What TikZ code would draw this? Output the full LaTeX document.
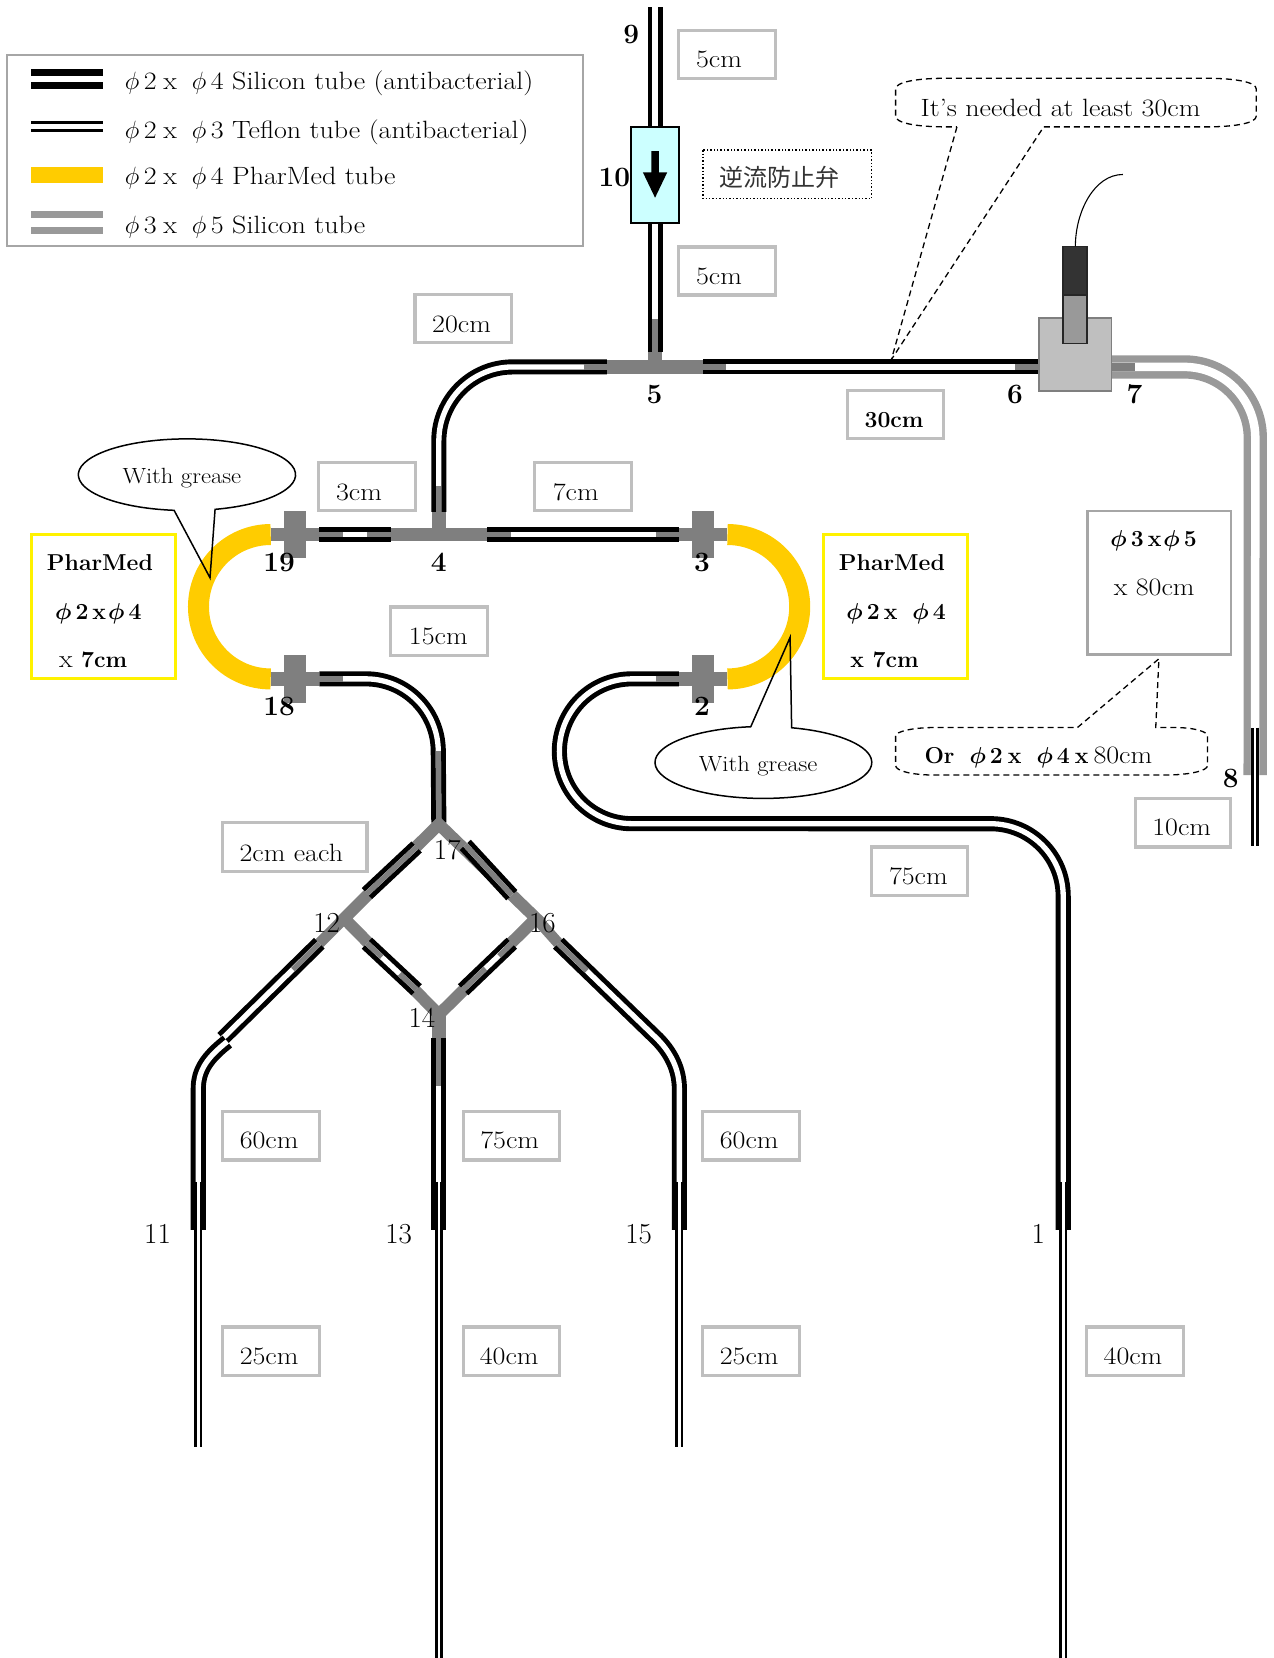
\documentclass[tikz,border=0pt]{standalone}
\usepackage{fix-cm}
\usepackage{fontspec}
\setmainfont{Latin Modern Roman}[FakeStretch=1.12,BoldFeatures={FakeStretch=1.0}]
\newfontfamily\cjk{Noto Sans CJK JP}
\newfontfamily\numf{Latin Modern Roman}
\definecolor{fitgray}{HTML}{7F7F7F}
\definecolor{lblgray}{HTML}{BFBFBF}
\definecolor{boxgray}{HTML}{A6A6A6}
\definecolor{tubegray}{HTML}{999999}
\definecolor{pharmed}{HTML}{FFCC00}
\definecolor{valve}{HTML}{CCFFFF}
\newcommand{\fs}{\fontsize{25}{28}\selectfont}
\newcommand{\fb}{\fontsize{23}{28}\selectfont\bfseries\boldmath}
\newcommand{\ph}{$\phi$}
\tikzset{
 x=1.0573pt,y=-1.0573pt,
 tube/.style={line width=4.9pt,double=white,double distance=5.3pt,color=black},
 thintube/.style={line width=2.6pt,double=white,double distance=2.6pt,color=black},
 graytube/.style={line width=7.4pt,double=white,double distance=8.5pt,color=tubegray},
 ins/.style={line width=5.3pt,color=fitgray},
 barfit/.style={line width=13.5pt,color=fitgray},
 pharmedtube/.style={line width=21pt,color=pharmed},
 lenbox/.style={draw=lblgray,line width=3.2pt,fill=white},
 txt/.style={inner sep=0pt,text depth=0pt,yshift=0.8pt,font=\fs,text=black},
 btxt/.style={inner sep=0pt,text depth=0pt,yshift=0.8pt,font=\fb,text=black},
 num/.style={inner sep=0pt,text depth=0pt,font=\numf\fontsize{29}{30}\selectfont,text=black},
 bnum/.style={inner sep=0pt,text depth=0pt,font=\fontsize{28}{30}\selectfont\bfseries,text=black},
 callout/.style={draw=black,line width=1.5pt},
 dashcall/.style={draw=black,line width=1.3pt,dash pattern=on 6pt off 4pt},
}
\begin{document}
\begin{tikzpicture}
\useasboundingbox (0,0) rectangle (1204,1568);
% legend
\draw[boxgray,line width=2.2pt,fill=white] (6.5,52) rectangle (551,233);
\draw[tube,line width=6.9pt,double distance=6pt] (29.5,74.5) -- (97.5,74.5);
\draw[tube,line width=3.5pt,double distance=4.3pt] (29.5,119.5) -- (97.5,119.5);
\fill[pharmed] (29.5,157.7) rectangle (97.5,173);
\draw[graytube] (29.5,210.5) -- (97.5,210.5);
\foreach \n/\y/\t in {a/77.5/4 Silicon tube (antibacterial),b/123/3 Teflon tube (antibacterial),c/168/4 PharMed tube}
 \node[txt,anchor=west,yshift=0.6pt] (leg\n) at (118,\y) {\ph\hspace{4.5pt}2\hspace{6.5pt}x\hspace{15pt}\ph\hspace{4.5pt}\t};
\node[txt,anchor=west,yshift=0.6pt] (legd) at (118,214) {\ph\hspace{4.5pt}3\hspace{6.5pt}x\hspace{15pt}\ph\hspace{4.5pt}5 Silicon tube};

% valve branch
\draw[tube] (619.5,7) -- (619.5,120);
\draw[tube] (619.5,211) -- (619.5,333);
\draw[ins] (619.5,302) -- (619.5,333);
\draw[barfit] (619.5,333) -- (619.5,347);
\node[draw=black,line width=1.6pt,fill=valve,minimum width=47.6pt,minimum height=96.2pt,inner sep=0pt] (valvebody) at (619.5,165.5) {};
\fill[black] (616,143) -- (623,143) -- (623,163) -- (631,163) -- (619.5,187) -- (608,163) -- (616,163) -- cycle;

% fitting 5 and neighbours
\draw[barfit] (574,347) -- (665,347);
\draw[tube] (574,347) -- (485,347) arc[start angle=90,end angle=180,radius=74pt] -- (415,484);
\draw[ins] (552,347) -- (574,347);
\draw[ins] (415,460) -- (415,484);
\draw[tube] (665,347) -- (985,347);
\draw[ins] (665,347) -- (687,347);
\draw[ins] (960,347) -- (985,347);

% gray tube to 8
\draw[graytube] (1051,347) -- (1120,347) arc[start angle=90,end angle=0,radius=71pt] -- (1187,733);
\draw[ins,line width=8.5pt] (1051,347) -- (1073,347);
\draw[thintube] (1187,688) -- (1187,800);

% flow cell and sensor
\draw[fitgray,line width=1.6pt,fill=lblgray] (982.5,301) rectangle (1051,370);
\draw[black!85,line width=1.6pt,fill=tubegray] (1005.5,279) rectangle (1028,325);
\draw[black!85,line width=1.6pt,fill=black!80] (1005.5,233) rectangle (1028,279);
\draw[black,line width=1.1pt] (1017,233) .. controls (1017,200) and (1035,165) .. (1062,165);

% fitting 4
\draw[barfit] (370,505.5) -- (461,505.5);
\draw[barfit] (415,484) -- (415,505.5);
\draw[tube] (302,505.5) -- (370,505.5);
\draw[ins] (302,505.5) -- (324,505.5);
\draw[ins] (347,505.5) -- (370,505.5);
\draw[tube] (461,505.5) -- (642,505.5);
\draw[ins] (461,505.5) -- (483,505.5);
\draw[ins] (620,505.5) -- (642,505.5);

% PharMed loops
\draw[pharmedtube] (256,505.5) arc[start angle=90,end angle=270,radius=72.2pt];
\draw[pharmedtube] (688,505.5) arc[start angle=90,end angle=-90,radius=72.2pt];
% crosses
\foreach \cx/\cy/\a/\b in {279/505.5/256/302, 279/642/256/302, 665/505.5/642/688, 665/642/642/688}{
 \draw[barfit] (\a,\cy) -- (\b,\cy);
 \fill[fitgray] (\cx-10.2,\cy-22.5) rectangle (\cx+10.2,\cy+22.5);
}

% 18 to diamond
\draw[tube] (302,642) -- (346,642) arc[start angle=90,end angle=0,radius=72.4pt] -- (415,778);
\draw[ins] (302,642) -- (324,642);
\draw[ins] (415,710) -- (415,778);

% 2 to 1
\draw[tube] (642,642) -- (597.5,642) arc[start angle=90,end angle=270,radius=72.4pt] -- (937,779) arc[start angle=90,end angle=0,radius=72.4pt] -- (1005.5,1163);
\draw[ins] (620,642) -- (642,642);
\draw[thintube] (1005.5,1118) -- (1005.5,1568);

% diamond
\draw[fitgray,line width=12pt,line join=miter] (415,779.5) -- (325.5,868.5) -- (415,959.5) -- (507,868.5) -- cycle;
\draw[barfit] (415,959) -- (415,982);
\draw[barfit,line width=11pt] (325.5,868.5) -- (302,892);
\draw[barfit,line width=11pt] (507,868.5) -- (528,892);
\foreach \xa/\ya/\xb/\yb in {394/801/347/845, 440/799/484/846.6}{
 \draw[tube] (\xa,\ya) -- (\xb,\yb);
 \draw[ins] (\xa,\ya) -- (\xb,\yb);
}
\draw[tube] (347,892) -- (394,936);
\draw[ins] (347,892) -- (361,905);
\draw[ins] (378,921) -- (394,936);
\draw[tube] (438,936) -- (484,892);
\draw[ins] (438,936) -- (459,916);
\draw[ins] (472,904) -- (484,892);

% lower tubes
\draw[tube] (302,892) -- (210.5,982);
\draw[tube] (215,985) .. controls (196,1000) and (187.5,1012) .. (187.5,1030) -- (187.5,1163);
\draw[ins] (302,892) -- (277,917);
\draw[thintube] (187.5,1118) -- (187.5,1368);

\draw[tube] (415,982) -- (415,1163);
\draw[ins] (415,982) -- (415,1027);
\draw[thintube] (415,1118) -- (415,1568);

\draw[tube] (528,892) -- (619,980) .. controls (635,995) and (642.5,1012) .. (642.5,1030) -- (642.5,1163);
\draw[ins] (528,892) -- (555,918);
\draw[thintube] (642.5,1118) -- (642.5,1368);

% length boxes
\foreach \n/\xa/\ya/\xb/\yb/\tx/\ty/\t in {
 a/641.5/28.5/733.5/74.5/680/57/5cm,
 b/641.5/233.5/733.5/279/680/262/5cm,
 c/392.5/278.5/484/324/436.5/307/20cm,
 e/301.5/437.5/393/483/339.5/466/3cm,
 f/505.5/437.5/597/483/544.5/466/7cm,
 g/369.5/574/461/620/414.5/602/15cm,
 h/210.5/778/347/824/275.5/807/2cm each,
 i/824.5/801/915/847/868.5/829/75cm,
 j/1073.5/755/1164/801/1117.5/783/10cm,
 k/210.5/1051/302/1097/254.5/1079/60cm,
 l/438/1051/529/1097/482/1079/75cm,
 m/664.5/1051/756/1097/708.5/1079/60cm,
 n/210.5/1255/302/1301/254.5/1283/25cm,
 o/438/1255/529/1301/481.5/1283/40cm,
 p/664.5/1255/756/1301/708.5/1283/25cm,
 q/1027.5/1255/1119/1301/1071.5/1283/40cm}{
 \draw[lenbox] (\xa,\ya) rectangle (\xb,\yb);
 \node[txt] (len\n) at (\tx,\ty) {\t};
}
\draw[lenbox] (801.5,369) rectangle (892,415);
\node[btxt] (lend) at (845.5,398) {30cm};

% PharMed boxes
\draw[yellow,line width=3.2pt,fill=white] (29.5,505.5) rectangle (166,642);
\node[btxt] (ph1a) at (94.5,533) {PharMed};
\node[btxt] (ph1b) at (93,579) {\ph\hspace{4pt}2\hspace{4pt}x\hspace{2pt}\ph\hspace{4pt}4};
\node[txt] (ph1c) at (88,625) {x {\fb 7cm}};
\draw[yellow,line width=3.2pt,fill=white] (778.5,505.5) rectangle (915,642);
\node[btxt] (ph2a) at (843.5,533) {PharMed};
\node[btxt] (ph2b) at (847.5,579) {\ph\hspace{4pt}2\hspace{4pt}x\hspace{15pt}\ph\hspace{4pt}4};
\node[btxt] (ph2c) at (836.5,625) {x 7cm};

% 80 cm box
\draw[boxgray,line width=2.2pt,fill=white] (1028.5,483.5) rectangle (1164,619);
\node[btxt] (s1) at (1091,510) {\ph\hspace{4pt}3\hspace{4pt}x\hspace{2pt}\ph\hspace{4pt}5};
\node[txt] (s2) at (1091.5,556) {x 80cm};

% check valve label
\draw[black,line width=1.4pt,dotted] (665,142) rectangle (824,188);
\node[inner sep=0pt,font=\cjk\fontsize{24}{28}\selectfont,text=black!80] (chk) at (737.5,168) {逆流防止弁};

% callouts
\draw[dashcall] (905,120) -- (843,340) -- (987,120) -- (1140,120) .. controls (1170,120) and (1188,116) .. (1188,110) -- (1188,84) .. controls (1188,78) and (1170,74) .. (1140,74) -- (895,74) .. controls (865,74) and (847,78) .. (847,84) -- (847,110) .. controls (847,116) and (865,120) .. (895,120) -- cycle;
\node[txt] (needed) at (1003,103) {It’s needed at least 30cm};
\draw[dashcall] (1019,688) -- (1096,623) -- (1093,688) -- (1110,688) .. controls (1130,688) and (1142,692) .. (1142,696) -- (1142,724) .. controls (1142,729) and (1125,733) .. (1100,733) -- (885,733) .. controls (862,733) and (847,729) .. (847,724) -- (847,696) .. controls (847,692) and (862,688) .. (885,688) -- cycle;
\node[btxt] (orr) at (982,715) {Or\hspace{15pt}\ph\hspace{4pt}2\hspace{5pt}x\hspace{15pt}\ph\hspace{4pt}4\hspace{5pt}x\hspace{5pt}{\fs\mdseries 80cm}};

\draw[callout] (198.6,546.4) -- (203.4,481.7) arc[start angle=-75,end angle=263.2,x radius=108.6pt,y radius=35.84pt] -- cycle;
\node[inner sep=0pt,text depth=0pt,yshift=0.8pt,font=\fontsize{22}{26}\selectfont] (g1) at (172,451) {With grease};
\draw[callout] (747.2,602.8) -- (710,687.3) arc[start angle=96.7,end angle=434.9,x radius=108.4pt,y radius=35.95pt] -- cycle;
\node[inner sep=0pt,text depth=0pt,yshift=0.8pt,font=\fontsize{22}{26}\selectfont] (g2) at (717,723) {With grease};

% numbers
\foreach \t/\x/\y in {9/597/32,10/581/168,5/619/373,6/960/373,7/1073/373,19/264/532,18/264/668,4/415/532,3/664/532,2/664/668,8/1164/736}
 \node[bnum] (n\t) at (\x,\y) {\t};
\foreach \t/\x/\y in {1/982/1167,11/149/1167,13/377/1167,15/604/1167,12/309/873,14/399/963,16/513/873,17/423/804}
 \node[num] (n\t) at (\x,\y) {\t};
\end{tikzpicture}
\end{document}
